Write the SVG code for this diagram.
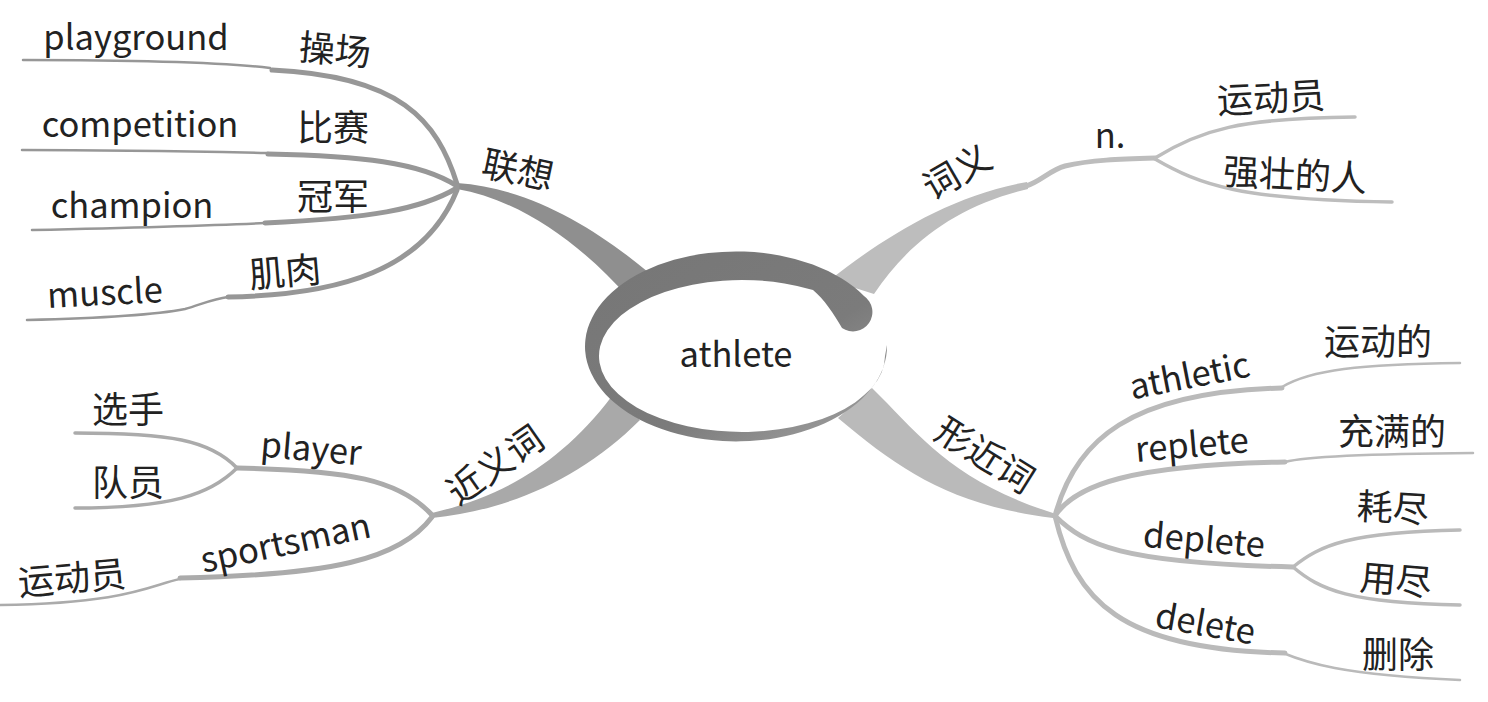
<svg xmlns="http://www.w3.org/2000/svg" width="1488" height="702" viewBox="0 0 1488 702">
<defs>
<style>
.t{font-family:"Noto Sans CJK SC","Noto Sans",sans-serif;font-size:36px;fill:#222;text-anchor:middle}
.e{font-size:34.5px}
.l{fill:none;stroke-linecap:round;stroke-linejoin:round}
.k{stroke-width:5}
.n{stroke-width:2.5}
.m{stroke-width:3.5}
.g1{stroke:#979797}
.g2{stroke:#ababab}
.g3{stroke:#bdbdbd}
.g4{stroke:#bababa}
</style>
<linearGradient id="ringGrad" x1="0" y1="0" x2="1" y2="1">
<stop offset="0" stop-color="#767676"/>
<stop offset="0.6" stop-color="#7b7b7b"/>
<stop offset="1" stop-color="#a3a3a3"/>
</linearGradient>
</defs>
<rect width="1488" height="702" fill="#fff"/>
<g id="connectors">
<path d="M457,183 C530,188 595,228 648,272 L628,297 C580,243 520,200 457,189 Z" fill="#8f8f8f"/>
<path d="M432,513 C500,497 560,465 612,396 L640,420 C582,478 510,510 432,518 Z" fill="#a9a9a9"/>
<path d="M830,280 C880,240 950,195 1027,182 L1028,189 C960,205 910,240 874,294 Z" fill="#bdbdbd"/>
<path d="M872,388 C920,435 950,480 1053,513 L1053,518 C950,505 900,470 838,418 Z" fill="#bababa"/>
<path class="l g1 n" d="M23,60 C120,60 220,62 270,68"/>
<path class="l g1 k" d="M272,70 C400,76 437,120 457,184"/>
<path class="l g1 n" d="M22,150 C120,150 220,152 268,153"/>
<path class="l g1 k" d="M268,154 C360,156 420,162 457,186"/>
<path class="l g1 n" d="M32,230 C120,228 200,226 265,223"/>
<path class="l g1 k" d="M265,223 C370,218 420,210 457,188"/>
<path class="l g1 n" d="M27,320 C110,318 160,314 185,309 C200,305 212,299 228,297"/>
<path class="l g1 k" d="M228,297 C340,295 425,270 457,190"/>
<path class="l g2 k" d="M432,515 C400,480 350,470 237,468"/>
<path class="l g2 m" d="M237,468 C210,440 170,433 75,433"/>
<path class="l g2 m" d="M237,468 C210,495 170,508 75,508"/>
<path class="l g2 k" d="M432,517 C400,560 330,575 180,578"/>
<path class="l g2 n" d="M180,579 C150,585 130,603 0,605"/>
<path class="l g3 k" d="M1026,186 C1040,182 1050,170 1065,166 C1090,160 1120,159 1155,158"/>
<path class="l g3 m" d="M1155,158 C1200,130 1240,118 1355,117"/>
<path class="l g3 m" d="M1155,159 C1200,185 1240,200 1392,202"/>
<path class="l g4 k" d="M1055,516 C1075,440 1130,392 1282,388"/>
<path class="l g4 n" d="M1282,387 C1310,370 1360,364 1460,363"/>
<path class="l g4 k" d="M1055,516 C1075,485 1130,465 1285,462"/>
<path class="l g4 n" d="M1285,462 C1300,458 1340,454 1473,453"/>
<path class="l g4 k" d="M1055,516 C1085,545 1120,563 1293,567"/>
<path class="l g4 m" d="M1293,567 C1320,545 1350,532 1460,530"/>
<path class="l g4 m" d="M1293,567 C1320,590 1350,603 1460,605"/>
<path class="l g4 k" d="M1055,516 C1075,600 1120,650 1285,653"/>
<path class="l g4 n" d="M1283,653 C1305,662 1340,675 1460,680"/>
</g>
<g id="node-athlete">
<path d="M887,345 A151,95 0 1 1 864,296 A17,17 0 0 1 842,328 C834,314 824,299 813,290 A143,76 0 1 0 885,356 Z" fill="url(#ringGrad)"/>
<text class="t e" x="736" y="367">athlete</text>
</g>
<g id="node-lianxiang"><g transform="translate(518,170) rotate(12)"><text class="t" x="0" y="13">联想</text></g></g>
<g id="node-playground"><text class="t e" x="136" y="50">playground</text></g>
<g id="node-caochang"><g transform="translate(335,50) rotate(5)"><text class="t" x="0" y="13">操场</text></g></g>
<g id="node-competition"><text class="t e" x="140" y="137">competition</text></g>
<g id="node-bisai"><text class="t" x="333" y="141">比赛</text></g>
<g id="node-champion"><text class="t e" x="132" y="218">champion</text></g>
<g id="node-guanjun"><text class="t" x="333" y="210">冠军</text></g>
<g id="node-muscle"><g transform="translate(105,295) rotate(-3)"><text class="t e" x="0" y="10">muscle</text></g></g>
<g id="node-jirou"><g transform="translate(285,272) rotate(-5)"><text class="t" x="0" y="13">肌肉</text></g></g>
<g id="node-jinyici"><g transform="translate(495,465) rotate(-35)"><text class="t" x="0" y="13">近义词</text></g></g>
<g id="node-player"><g transform="translate(311,451) rotate(5)"><text class="t e" x="0" y="10">player</text></g></g>
<g id="node-xuanshou"><text class="t" x="128" y="423">选手</text></g>
<g id="node-duiyuan"><text class="t" x="128" y="496">队员</text></g>
<g id="node-sportsman"><g transform="translate(286,545) rotate(-12)"><text class="t e" x="0" y="10">sportsman</text></g></g>
<g id="node-yundongyuan1"><g transform="translate(72,578) rotate(-5)"><text class="t" x="0" y="13">运动员</text></g></g>
<g id="node-ciyi"><g transform="translate(957,172) rotate(-30)"><text class="t" x="0" y="13">词义</text></g></g>
<g id="node-n"><text class="t e" x="1110" y="148">n.</text></g>
<g id="node-yundongyuan2"><g transform="translate(1271,98) rotate(-3)"><text class="t" x="0" y="13">运动员</text></g></g>
<g id="node-qiangzhuang"><g transform="translate(1295,175) rotate(3)"><text class="t" x="0" y="13">强壮的人</text></g></g>
<g id="node-xingjinci"><g transform="translate(985,455) rotate(32)"><text class="t" x="0" y="13">形近词</text></g></g>
<g id="node-athletic"><g transform="translate(1190,378) rotate(-11)"><text class="t e" x="0" y="10">athletic</text></g></g>
<g id="node-yundongde"><text class="t" x="1378" y="355">运动的</text></g>
<g id="node-replete"><g transform="translate(1192,447) rotate(-5)"><text class="t e" x="0" y="10">replete</text></g></g>
<g id="node-chongmande"><text class="t" x="1392" y="445">充满的</text></g>
<g id="node-deplete"><g transform="translate(1204,542) rotate(5)"><text class="t e" x="0" y="10">deplete</text></g></g>
<g id="node-haojin"><g transform="translate(1393,508) rotate(3)"><text class="t" x="0" y="13">耗尽</text></g></g>
<g id="node-yongjin"><g transform="translate(1396,580) rotate(5)"><text class="t" x="0" y="13">用尽</text></g></g>
<g id="node-delete"><g transform="translate(1205,626) rotate(10)"><text class="t e" x="0" y="10">delete</text></g></g>
<g id="node-shanchu"><text class="t" x="1398" y="668">删除</text></g>
</svg>
